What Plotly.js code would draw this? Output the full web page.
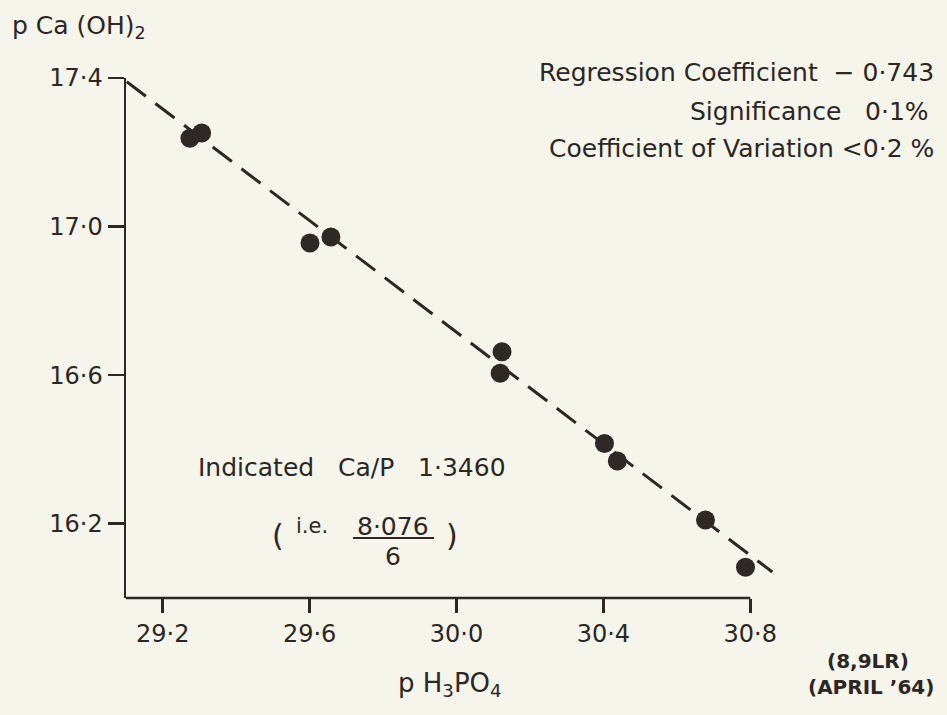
<!DOCTYPE html>
<html>
<head>
<meta charset="utf-8">
<script src="https://cdn.plot.ly/plotly-3.0.1.min.js"></script>
<style>html,body{margin:0;padding:0;background:#f5f5eb;}#chart{width:947px;height:715px;}</style>
</head>
<body>
<div id="chart"></div>
<script>
// ---- data ----
const pH3PO4 = [29.274, 29.306, 29.601, 29.658, 30.119, 30.124, 30.403, 30.438, 30.678, 30.787];
const pCaOH2 = [17.238, 17.252, 16.956, 16.972, 16.605, 16.663, 16.416, 16.369, 16.210, 16.083];
const fitX = [29.102, 30.86];
const fitY = [17.39, 16.07];
const xTickVals = [29.2, 29.6, 30.0, 30.4, 30.8];
const xTickText = ['29·2', '29·6', '30·0', '30·4', '30·8'];
const yTickVals = [16.2, 16.6, 17.0, 17.4];
const yTickText = ['16·2', '16·6', '17·0', '17·4'];
const xAxisStart = 29.1, xAxisEnd = 30.8;
const yRange = [16.0, 17.4];
const xRange = [29.1, 30.9];

// ---- layout helpers ----
const W = 947, H = 715, L = 126, R = 160, T = 78, B = 117;
const PW = W - L - R, PH = H - T - B;
const px = x => (x - L) / PW;
const py = y => (H - B - y) / PH;
const ink = '#2c2624';
const FONT = 'DejaVu Sans, Noto Sans, sans-serif';
const nb = s => s.replace(/ /g, '\u00a0');

function ann(text, x, y, size, xanchor, extra) {
  return Object.assign({
    text: text, xref: 'paper', yref: 'paper', x: px(x), y: py(y),
    xanchor: xanchor || 'center', yanchor: 'middle', showarrow: false,
    font: {family: FONT, size: size, color: ink}
  }, extra || {});
}

const traces = [
  {x: fitX, y: fitY, mode: 'lines', type: 'scatter', hoverinfo: 'skip',
   line: {color: ink, width: 3, dash: '24px,12px'}},
  {x: pH3PO4, y: pCaOH2, mode: 'markers', type: 'scatter', cliponaxis: false,
   marker: {color: '#2e2826', size: 19, line: {width: 0}}}
];

const layout = {
  width: W, height: H,
  margin: {l: L, r: R, t: T, b: B, pad: 0},
  paper_bgcolor: '#f5f5eb', plot_bgcolor: '#f5f5eb',
  showlegend: false,
  font: {family: FONT, color: ink},
  xaxis: {
    range: xRange, showgrid: false, zeroline: false, showline: false,
    tickmode: 'array', tickvals: xTickVals, ticktext: xTickText,
    ticks: 'outside', ticklen: 14, tickwidth: 2.5, tickcolor: ink,
    tickfont: {family: FONT, size: 24, color: ink}
  },
  yaxis: {
    range: yRange, showgrid: false, zeroline: false,
    showline: true, linecolor: ink, linewidth: 2.5,
    tickmode: 'array', tickvals: yTickVals, ticktext: yTickText,
    ticks: 'outside', ticklen: 16, tickwidth: 2.5, tickcolor: ink,
    tickfont: {family: FONT, size: 24, color: ink}
  },
  shapes: [
    {type: 'line', xref: 'x', yref: 'paper', x0: xAxisStart, x1: xAxisEnd, y0: 0, y1: 0,
     line: {color: ink, width: 2.5}},
    {type: 'line', xref: 'paper', yref: 'paper', x0: px(353), x1: px(434), y0: py(538), y1: py(538),
     line: {color: ink, width: 2}}
  ],
  annotations: [
    ann(nb('p Ca (OH)') + '<sub>2</sub>', 10, 27, 25, 'left'),
    ann(nb('Regression Coefficient  − 0·743'), 936, 72, 25, 'right'),
    ann(nb('Significance   0·1%'), 931, 111, 25, 'right'),
    ann(nb('Coefficient of Variation <0·2 %'), 936, 148, 25, 'right'),
    ann(nb('Indicated   Ca/P   1·3460'), 196, 467, 25, 'left'),
    ann('(', 278, 535, 30),
    ann('i.e.', 294, 526, 21, 'left'),
    ann('8·076', 393, 526, 25),
    ann('6', 393, 556, 25),
    ann(')', 452, 535, 30),
    ann(nb('p H') + '<sub>3</sub>PO<sub>4</sub>', 450, 684, 26),
    ann('<b>(8,9LR)</b>', 868, 661, 20),
    ann('<b>' + nb('(APRIL ’64)') + '</b>', 871, 687, 20)
  ]
};

Plotly.newPlot('chart', traces, layout, {displayModeBar: false, staticPlot: true});
</script>
</body>
</html>
